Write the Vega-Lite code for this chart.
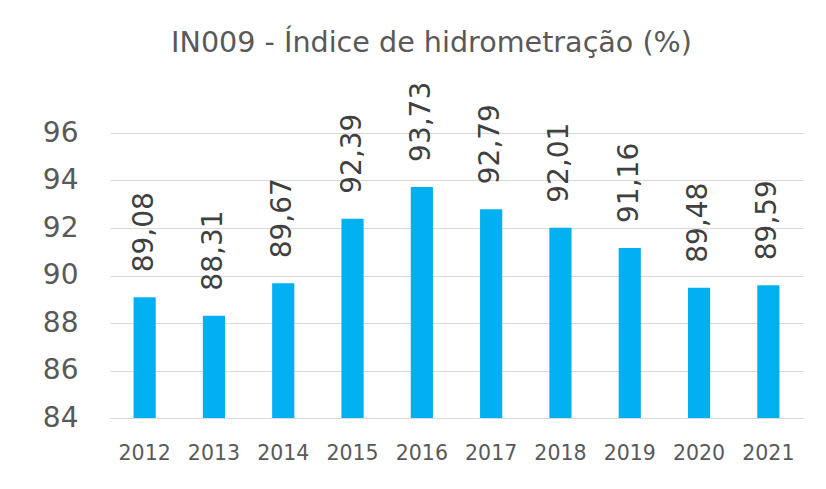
{
  "$schema": "https://vega.github.io/schema/vega-lite/v6.json",
  "autosize": "none",
  "width": 693,
  "height": 285,
  "padding": {"left": 110, "top": 133, "right": 23, "bottom": 71},
  "background": "white",
  "title": {
    "text": "IN009 - Índice de hidrometração (%)",
    "font": "DejaVu Sans",
    "fontSize": 28.6,
    "fontWeight": "normal",
    "color": "#595959",
    "anchor": "middle",
    "dx": -25,
    "offset": 24
  },
  "data": {
    "values": [
      {"ano": "2012", "valor": 89.08, "rotulo": "89,08"},
      {"ano": "2013", "valor": 88.31, "rotulo": "88,31"},
      {"ano": "2014", "valor": 89.67, "rotulo": "89,67"},
      {"ano": "2015", "valor": 92.39, "rotulo": "92,39"},
      {"ano": "2016", "valor": 93.73, "rotulo": "93,73"},
      {"ano": "2017", "valor": 92.79, "rotulo": "92,79"},
      {"ano": "2018", "valor": 92.01, "rotulo": "92,01"},
      {"ano": "2019", "valor": 91.16, "rotulo": "91,16"},
      {"ano": "2020", "valor": 89.48, "rotulo": "89,48"},
      {"ano": "2021", "valor": 89.59, "rotulo": "89,59"}
    ]
  },
  "encoding": {
    "x": {
      "field": "ano",
      "type": "nominal",
      "scale": {"paddingInner": 0.68, "paddingOuter": 0.34},
      "axis": {
        "title": null,
        "labelAngle": 0,
        "labelFont": "DejaVu Sans",
        "labelFontSize": 20.5,
        "labelColor": "#595959",
        "labelPadding": 25,
        "ticks": false,
        "domainColor": "#d9d9d9",
        "domainWidth": 1
      }
    },
    "y": {
      "field": "valor",
      "type": "quantitative",
      "scale": {"domain": [84, 96], "zero": false, "nice": false},
      "axis": {
        "title": null,
        "values": [84, 86, 88, 90, 92, 94, 96],
        "labelFont": "DejaVu Sans",
        "labelFontSize": 28,
        "labelColor": "#595959",
        "labelPadding": 32,
        "ticks": false,
        "domain": false,
        "gridColor": "#d9d9d9",
        "gridWidth": 1
      }
    }
  },
  "layer": [
    {
      "mark": {"type": "bar", "color": "#00B0F0", "clip": true},
      "encoding": {"y2": {"datum": 84}}
    },
    {
      "mark": {
        "type": "text",
        "angle": -90,
        "align": "left",
        "baseline": "middle",
        "dx": 25,
        "font": "DejaVu Sans",
        "fontSize": 28,
        "color": "#404040"
      },
      "encoding": {"text": {"field": "rotulo"}}
    }
  ],
  "config": {"view": {"stroke": null}}
}
